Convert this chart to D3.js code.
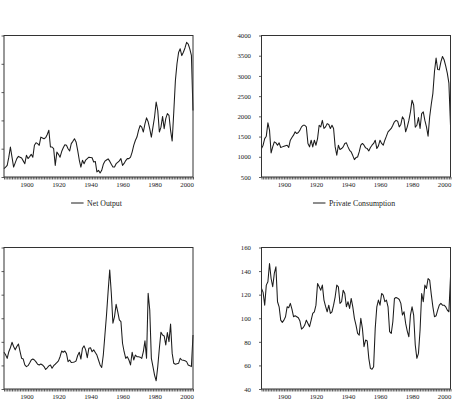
<!DOCTYPE html>
<meta charset="utf-8">
<style>
body { margin: 0; background: #fff; }
svg { display: block; }
.frame { fill: none; stroke: #333; stroke-width: 1px; }
.axis .domain { display: none; }
.axis line { stroke: #333; stroke-width: 0.8px; }
.axis text { font: 6.8px "Liberation Serif", "Times New Roman", serif; fill: #222; }
.series { fill: none; stroke: #1c1c1c; stroke-width: 1.05px; stroke-linejoin: round; }
.legend text { font: 7.8px "Liberation Serif", "Times New Roman", serif; fill: #222; }
.legend line { stroke: #1c1c1c; stroke-width: 1px; }
</style>
<body>
<svg width="457" height="404"></svg>

<script src="https://d3js.org/d3.v7.min.js"></script>
<script>

// annual observations, 1886 .. 2004
let years = d3.range(1886, 2005);

let netOutput = [
  294, 350, 412, 700, 1060, 700, 350, 500, 650, 730,
  700, 670, 570, 470, 765, 650, 720, 800, 700, 1120,
  1210, 1180, 1120, 1410, 1380, 1350, 1390, 1500, 1650, 1060,
  1060, 1000, 410, 880, 800, 700, 900, 1035, 1140, 1120,
  1000, 920, 1180, 1260, 1350, 1240, 940, 600, 350, 590,
  470, 600, 650, 700, 690, 680, 530, 550, 180, 235,
  140, 235, 450, 560, 600, 640, 560, 450, 350, 350,
  470, 520, 570, 650, 410, 480, 580, 650, 650, 700,
  880, 1120, 1290, 1410, 1650, 1820, 1760, 1590, 1880, 2090,
  1950, 1700, 1410, 1760, 2120, 2650, 2350, 1590, 1760, 2140,
  1710, 2060, 2240, 2180, 1650, 1270, 2300, 3400, 4000, 4400,
  4530, 4290, 4410, 4560, 4760, 4700, 4530, 4300, 2350
];

let privateConsumption = [
  1203, 1286, 1450, 1510, 1840, 1660, 1095, 1245, 1370, 1345,
  1286, 1345, 1230, 1245, 1260, 1275, 1286, 1230, 1410, 1475,
  1535, 1617, 1575, 1600, 1660, 1740, 1780, 1780, 1740, 1330,
  1245, 1410, 1245, 1410, 1286, 1450, 1780, 1740, 1900, 1700,
  1740, 1820, 1800, 1700, 1780, 1700, 1245, 1040, 1286, 1180,
  1203, 1245, 1330, 1345, 1245, 1160, 1120, 1030, 930, 980,
  995, 1120, 1286, 1330, 1286, 1220, 1203, 1145, 1230, 1286,
  1330, 1410, 1203, 1270, 1410, 1330, 1286, 1410, 1510, 1617,
  1660, 1700, 1780, 1865, 1900, 1880, 1740, 1800, 1990, 1920,
  1617, 1740, 1900, 2110, 2400, 2280, 1730, 1780, 1970, 1700,
  2070, 2110, 1900, 1740, 1510, 1990, 2300, 2570, 3110, 3440,
  3160, 3150, 3350, 3480, 3400, 3250, 3070, 2820, 1780
];

let seriesC = [
  15.6, 14.5, 13.0, 15.8, 17.5, 19.8, 18.0, 16.6, 18.0, 19.1,
  16.0, 13.0, 12.7, 10.2, 9.5, 9.9, 11.0, 12.3, 12.7, 12.3,
  11.5, 10.5, 10.2, 10.6, 10.2, 9.5, 8.3, 9.0, 9.8, 10.2,
  8.8, 9.9, 10.5, 11.2, 11.9, 13.7, 16.1, 15.6, 16.1, 15.0,
  11.6, 12.3, 11.2, 11.3, 11.5, 11.9, 14.2, 15.6, 12.7, 17.3,
  18.3, 16.6, 13.3, 17.3, 17.5, 15.8, 16.6, 15.5, 14.4, 12.3,
  10.2, 9.1, 14.4, 22.9, 31.4, 41.3, 50.5, 40.6, 27.9, 30.7,
  35.9, 32.8, 29.3, 28.6, 19.4, 15.8, 13.0, 13.7, 12.3, 10.2,
  15.6, 12.3, 14.4, 13.7, 13.7, 13.5, 13.0, 15.8, 20.4, 13.0,
  40.6, 33.5, 13.0, 9.5, 5.9, 3.5, 9.5, 17.3, 24.1, 22.9,
  22.5, 18.7, 23.9, 20.1, 27.5, 15.1, 10.9, 10.5, 10.7, 10.9,
  13.0, 12.3, 12.2, 12.0, 11.6, 10.2, 9.9, 9.5, 22.9
];

let seriesD = [
  125.3, 121.9, 111.1, 128.1, 130.9, 146.4, 133.7, 126.7, 138.0, 143.6,
  114.0, 109.7, 98.4, 96.5, 98.4, 101.3, 109.7, 108.9, 112.6, 107.8,
  101.3, 102.1, 101.3, 100.4, 97.6, 90.8, 92.0, 94.2, 98.4, 95.6,
  92.8, 98.4, 104.1, 105.5, 111.1, 129.5, 126.7, 123.8, 128.1, 115.4,
  110.0, 105.5, 111.1, 104.1, 105.5, 111.1, 118.2, 128.1, 126.7, 112.6,
  114.0, 123.8, 121.0, 109.7, 114.0, 108.3, 116.8, 109.7, 99.9, 94.2,
  87.1, 85.7, 99.9, 91.4, 75.9, 81.5, 80.7, 66.0, 57.5, 56.7,
  58.9, 91.4, 109.7, 115.4, 111.1, 121.0, 119.6, 114.0, 115.4, 109.7,
  88.6, 87.1, 97.0, 116.8, 117.6, 117.0, 115.9, 112.6, 102.7, 105.5,
  95.6, 89.1, 84.3, 102.7, 109.7, 102.7, 77.3, 66.0, 70.2, 90.0,
  121.0, 114.0, 128.1, 125.3, 133.7, 132.3, 120.2, 109.7, 101.3, 102.1,
  106.9, 111.1, 112.6, 111.1, 111.1, 109.7, 106.9, 105.5, 135.0
];

let xTickLabels = [1900, 1920, 1940, 1960, 1980, 2000];

let netOutputTicks = [0, 1000, 2000, 3000, 4000, 5000];
let consumptionTicks = [500, 1000, 1500, 2000, 2500, 3000, 3500, 4000];
let seriesCTicks = [0, 10, 20, 30, 40, 50, 60];
let seriesDTicks = [40, 60, 80, 100, 120, 140, 160];

let svg = d3.select('svg');

function panel(cfg) {
  let w = 189, h = 141.5;
  let g = svg.append('g')
    .attr('transform', 'translate(' + cfg.left + ',' + cfg.top + ')');

  let x = d3.scaleLinear()
    .domain([years[0], years[years.length - 1]])
    .range([0, w]);

  let y = d3.scaleLinear()
    .domain(d3.extent(cfg.ticks))
    .range([h, 0]);

  g.append('g')
    .attr('class', 'axis')
    .attr('transform', 'translate(0,' + h + ')')
    .call(d3.axisBottom(x)
      .tickValues(years)
      .tickSize(2.5)
      .tickPadding(3)
      .tickFormat(function(d) { return xTickLabels.includes(d) ? d : ''; }));

  // the left-hand panels are cropped in the original, so their
  // value labels fall outside the picture: keep only the tick marks
  g.append('g')
    .attr('class', 'axis')
    .call(d3.axisLeft(y)
      .tickValues(cfg.ticks)
      .tickSize(2.5)
      .tickPadding(8)
      .tickFormat(cfg.showYLabels ? d3.format('d') : function() { return ''; }));

  let line = d3.line()
    .x(function(d, i) { return x(years[i]); })
    .y(function(d) { return y(d); });

  g.append('path')
    .datum(cfg.values)
    .attr('class', 'series')
    .attr('d', line);

  g.append('rect')
    .attr('class', 'frame')
    .attr('width', w)
    .attr('height', h);

  if (cfg.label) {
    let lg = g.append('g').attr('class', 'legend');
    lg.append('line')
      .attr('x1', 0).attr('x2', 12.5)
      .attr('y1', 0).attr('y2', 0);
    let t = lg.append('text')
      .attr('x', 16)
      .attr('y', 2.6)
      .text(cfg.label);
    let lw = 16 + t.node().getComputedTextLength();
    lg.attr('transform', 'translate(' + (w / 2 - 2 - lw / 2) + ',' + (h + 26) + ')');
  }
}

panel({ left: 4, top: 35.5, values: netOutput, ticks: netOutputTicks, label: 'Net Output', showYLabels: false });
panel({ left: 261.5, top: 35.5, values: privateConsumption, ticks: consumptionTicks, label: 'Private Consumption', showYLabels: true });
panel({ left: 4, top: 247.5, values: seriesC, ticks: seriesCTicks, showYLabels: false });
panel({ left: 261.5, top: 247.5, values: seriesD, ticks: seriesDTicks, showYLabels: true });

</script>
</body>
